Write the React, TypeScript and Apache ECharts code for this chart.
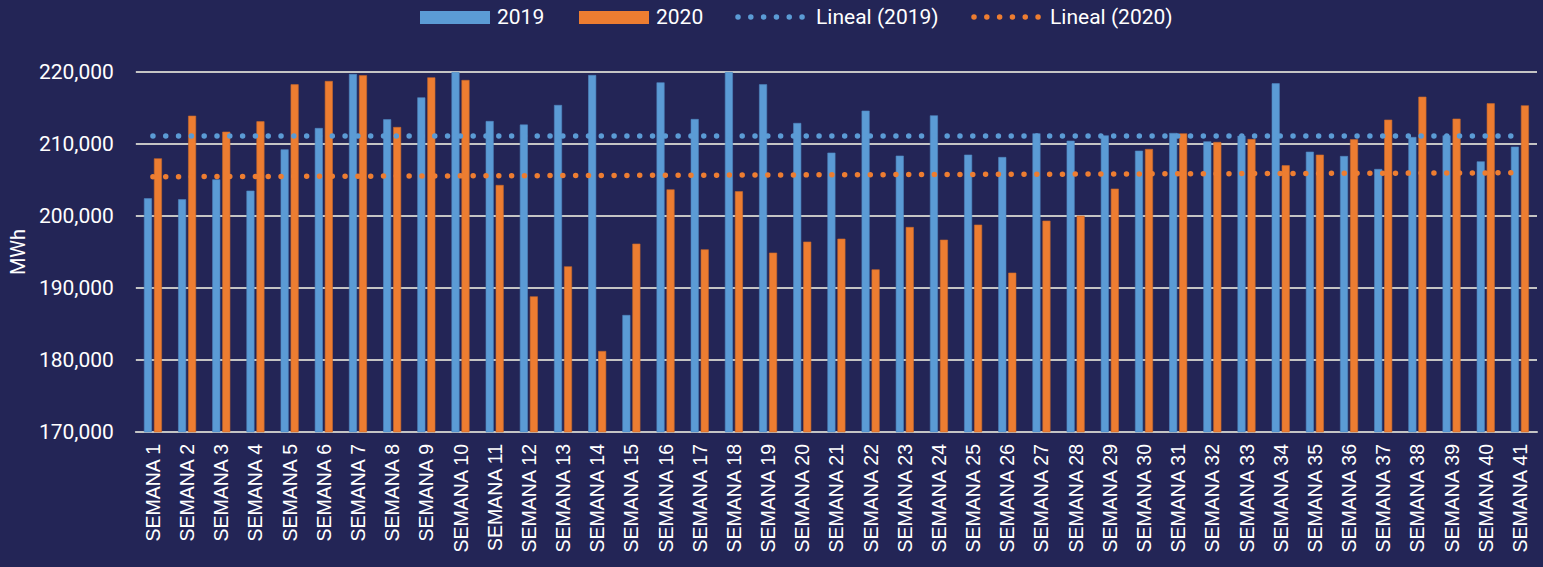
import React, { useEffect, useRef } from "react";
import * as echarts from "echarts";

const weeks = [
  "SEMANA 1", "SEMANA 2", "SEMANA 3", "SEMANA 4", "SEMANA 5", "SEMANA 6", "SEMANA 7", "SEMANA 8", "SEMANA 9", "SEMANA 10",
  "SEMANA 11", "SEMANA 12", "SEMANA 13", "SEMANA 14", "SEMANA 15", "SEMANA 16", "SEMANA 17", "SEMANA 18", "SEMANA 19", "SEMANA 20",
  "SEMANA 21", "SEMANA 22", "SEMANA 23", "SEMANA 24", "SEMANA 25", "SEMANA 26", "SEMANA 27", "SEMANA 28", "SEMANA 29", "SEMANA 30",
  "SEMANA 31", "SEMANA 32", "SEMANA 33", "SEMANA 34", "SEMANA 35", "SEMANA 36", "SEMANA 37", "SEMANA 38", "SEMANA 39", "SEMANA 40",
  "SEMANA 41",
];

const values2019 = [
  202460, 202320, 205090, 203520, 209260, 212220, 219720, 213430, 216480, 220000,
  213190, 212700, 215420, 219580, 186250, 218560, 213470, 220000, 218290, 212920,
  208800, 214630, 208380, 213980, 208520, 208190, 211480, 210460, 211200, 209070,
  211530, 210370, 211150, 218430, 208930, 208330, 206530, 210970, 211200, 207590,
  209630,
];

const values2020 = [
  208010, 213930, 211710, 213150, 218290, 218750, 219540, 212360, 219260, 218890,
  204310, 188840, 193010, 181250, 196160, 203700, 195370, 203430, 194910, 196440,
  196850, 192590, 198470, 196710, 198800, 192130, 199350, 200050, 203800, 209310,
  211480, 210280, 210690, 207040, 208520, 210650, 213380, 216570, 213520, 215650,
  215370,
];

// Linear trend lines (start at week 1, end at week 41)
const trend2019 = [211100, 211100];
const trend2020 = [205450, 206000];

const seriesNames = ["2019", "2020", "Lineal (2019)", "Lineal (2020)"];

const yTicks = { min: 170000, max: 220000, interval: 10000 };

const BG = "#232556";
const BLUE = "#5b9bd5";
const ORANGE = "#ed7d31";
const GRID = "#c4c4c4";
const DOT_DASH = [0.01, 12.8];

export default function App() {
  const ref = useRef<HTMLDivElement>(null);

  useEffect(() => {
    if (!ref.current) return;
    const chart = echarts.init(ref.current, undefined, { renderer: "svg" });
    const last = weeks.length - 1;
    const dotted = (color: string) => ({
      color,
      width: 5.5,
      type: DOT_DASH as any,
      cap: "round" as any,
    });
    const legendText = (x: number, text: string) => ({
      type: "text",
      x,
      y: 17,
      style: {
        text,
        fill: "#ffffff",
        fontSize: 21,
        fontFamily: "Roboto",
        verticalAlign: "middle",
        textAlign: "left",
      },
    });
    const legendDots = (x1: number, x2: number, color: string) => ({
      type: "line",
      shape: { x1, y1: 17, x2, y2: 17 },
      style: { stroke: color, lineWidth: 5.5, lineDash: DOT_DASH, lineCap: "round" },
    });
    chart.setOption({
      animation: false,
      backgroundColor: BG,
      legend: { show: false },
      graphic: [
        { type: "rect", shape: { x: 420, y: 11, width: 70, height: 13 }, style: { fill: BLUE } },
        legendText(497, seriesNames[0]),
        { type: "rect", shape: { x: 579, y: 11, width: 70, height: 13 }, style: { fill: ORANGE } },
        legendText(656, seriesNames[1]),
        legendDots(738, 802.5, BLUE),
        legendText(816, seriesNames[2]),
        legendDots(974, 1038.5, ORANGE),
        legendText(1050, seriesNames[3]),
      ],
      grid: { left: 134, right: 6, top: 72, bottom: 135, containLabel: false },
      xAxis: {
        type: "category",
        data: weeks,
        axisLine: { lineStyle: { color: GRID, width: 2 } },
        axisTick: { show: false },
        axisLabel: {
          rotate: 90,
          interval: 0,
          color: "#ffffff",
          fontSize: 19.5,
          fontFamily: "Liberation Sans",
          margin: 12,
        },
      },
      yAxis: {
        type: "value",
        min: yTicks.min,
        max: yTicks.max,
        interval: yTicks.interval,
        name: "MWh",
        nameLocation: "middle",
        nameGap: 106,
        nameRotate: 90,
        nameTextStyle: { color: "#ffffff", fontSize: 20, fontFamily: "Roboto" },
        axisLine: { show: false },
        axisTick: { show: false },
        splitLine: { lineStyle: { color: GRID, width: 2 } },
        axisLabel: {
          color: "#ffffff",
          fontSize: 21,
          fontFamily: "Roboto",
          margin: 22,
          formatter: (v: number) => v.toLocaleString("en-US"),
        },
      },
      series: [
        {
          name: seriesNames[0],
          type: "bar",
          data: values2019,
          barWidth: 8,
          barGap: "25%",
          itemStyle: { color: BLUE, borderColor: "#4f86c0", borderWidth: 0.6 },
        },
        {
          name: seriesNames[1],
          type: "bar",
          data: values2020,
          barWidth: 8,
          barGap: "25%",
          itemStyle: { color: ORANGE, borderColor: "#c8692b", borderWidth: 0.6 },
        },
        {
          name: seriesNames[2],
          type: "line",
          data: [[0, trend2019[0]], [last, trend2019[1]]],
          symbol: "none",
          lineStyle: dotted(BLUE),
          itemStyle: { color: BLUE },
          z: 5,
        },
        {
          name: seriesNames[3],
          type: "line",
          data: [[0, trend2020[0]], [last, trend2020[1]]],
          symbol: "none",
          lineStyle: dotted(ORANGE),
          itemStyle: { color: ORANGE },
          z: 5,
        },
      ],
    });
    return () => chart.dispose();
  }, []);

  return (
    <div
      ref={ref}
      style={{ position: "absolute", left: 0, top: 0, width: 1543, height: 567 }}
    />
  );
}
